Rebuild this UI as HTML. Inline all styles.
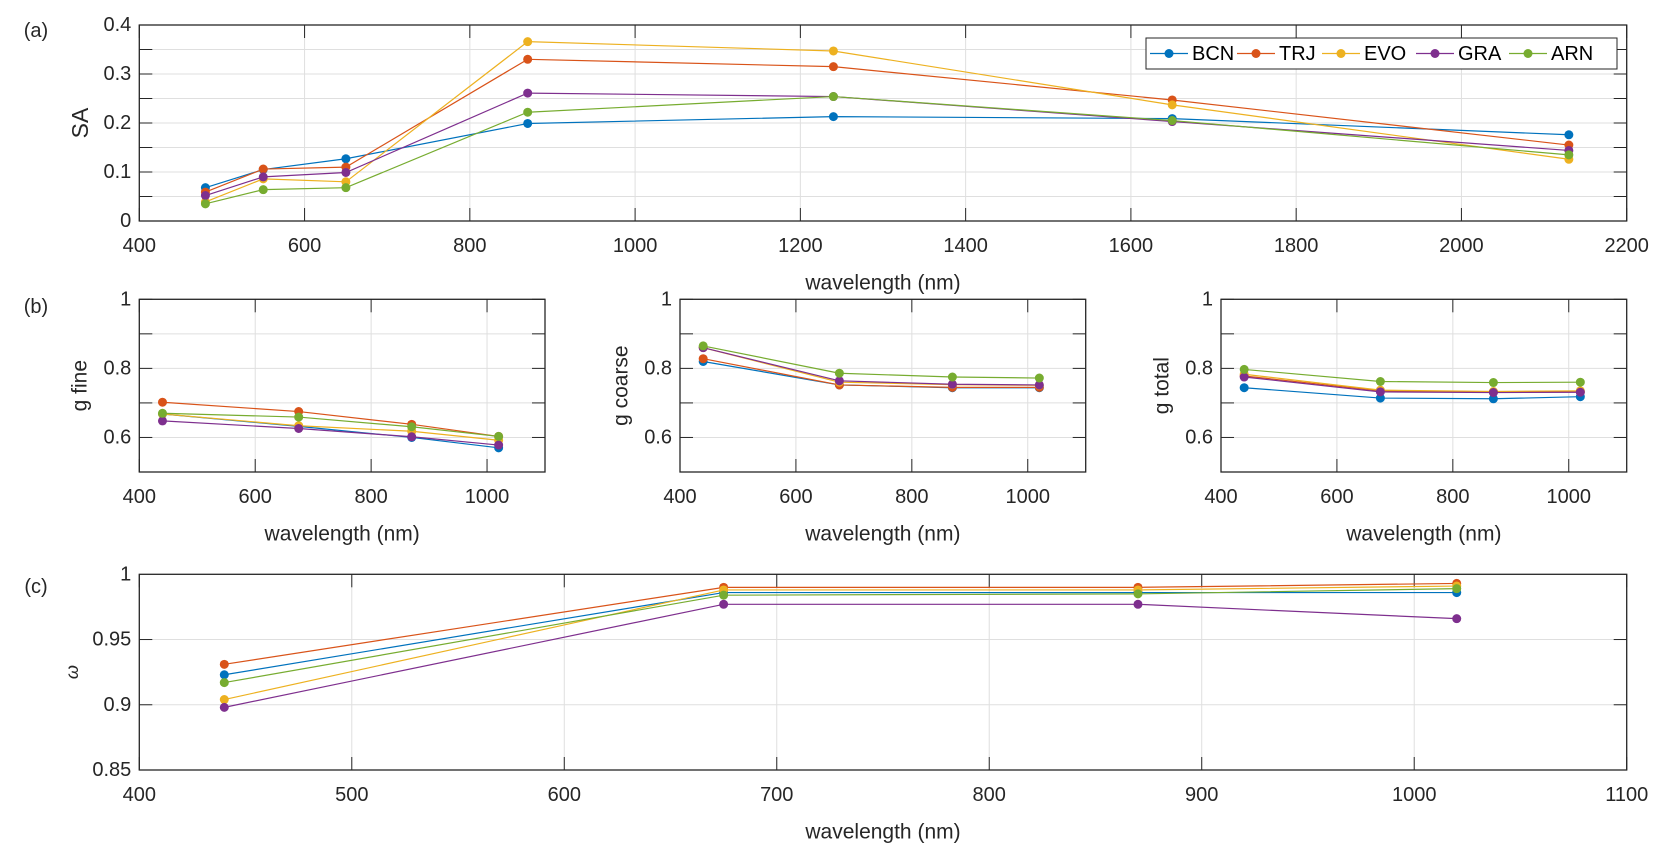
<!DOCTYPE html>
<html><head><meta charset="utf-8"><style>
body{margin:0;background:#fff;}
svg{display:block;font-family:"Liberation Sans",Arial,sans-serif;}
</style></head><body>
<svg id="fig" width="1669" height="860" viewBox="0 0 1669 860" xmlns="http://www.w3.org/2000/svg"></svg>
<script>
const seriesNames = ["BCN","TRJ","EVO","GRA","ARN"];
const colors = ["#0072BD","#D95319","#EDB120","#7E2F8E","#77AC30"];
// Panel (a) SA
const waveA = [480,550,650,870,1240,1650,2130];
const saBCN = [0.068,0.105,0.127,0.199,0.213,0.209,0.176];
const saTRJ = [0.059,0.106,0.110,0.330,0.315,0.247,0.155];
const saEVO = [0.039,0.086,0.080,0.366,0.347,0.237,0.126];
const saGRA = [0.052,0.090,0.099,0.261,0.254,0.203,0.144];
const saARN = [0.035,0.064,0.068,0.222,0.254,0.205,0.135];
// Panels (b),(c)
const waveB = [440,675,870,1020];
const gfBCN = [0.668,0.632,0.600,0.570];
const gfTRJ = [0.702,0.675,0.638,0.603];
const gfEVO = [0.668,0.634,0.618,0.592];
const gfGRA = [0.648,0.626,0.602,0.578];
const gfARN = [0.670,0.659,0.631,0.603];
const gcBCN = [0.820,0.752,0.744,0.744];
const gcTRJ = [0.828,0.752,0.745,0.745];
const gcEVO = [0.860,0.760,0.753,0.751];
const gcGRA = [0.860,0.764,0.754,0.752];
const gcARN = [0.865,0.786,0.775,0.772];
const gtBCN = [0.744,0.714,0.712,0.718];
const gtTRJ = [0.778,0.735,0.731,0.732];
const gtEVO = [0.783,0.737,0.733,0.735];
const gtGRA = [0.775,0.732,0.730,0.731];
const gtARN = [0.797,0.762,0.759,0.760];
const omBCN = [0.923,0.986,0.986,0.986];
const omTRJ = [0.931,0.990,0.990,0.993];
const omEVO = [0.904,0.988,0.988,0.991];
const omGRA = [0.898,0.977,0.977,0.966];
const omARN = [0.917,0.984,0.985,0.989];

const NS="http://www.w3.org/2000/svg";
const svg=document.getElementById('fig');
function mk(tag,attrs,parent){const e=document.createElementNS(NS,tag);for(const k in attrs)e.setAttribute(k,attrs[k]);(parent||svg).appendChild(e);return e;}
function txt(s,x,y,size,anchor,parent,extra){const t=mk('text',Object.assign({x:x,y:y,'font-size':size,'text-anchor':anchor||'middle','dominant-baseline':'central',fill:'#262626'},extra||{}),parent);t.textContent=s;return t;}

function panel(o){
  const g=mk('g',{});
  
  
  const X=v=>o.L+(v-o.x0)/(o.x1-o.x0)*(o.R-o.L);
  const Y=v=>o.B-(v-o.y0)/(o.y1-o.y0)*(o.B-o.T);
  // grid
  o.xgrid.forEach(v=>{mk('line',{x1:X(v),x2:X(v),y1:o.T,y2:o.B,stroke:'#dfdfdf','stroke-width':1},g);});
  o.ygrid.forEach(v=>{mk('line',{x1:o.L,x2:o.R,y1:Y(v),y2:Y(v),stroke:'#dfdfdf','stroke-width':1},g);});
  // ticks
  o.xgrid.forEach(v=>{mk('line',{x1:X(v),x2:X(v),y1:o.B,y2:o.B-13,stroke:'#262626'},g);mk('line',{x1:X(v),x2:X(v),y1:o.T,y2:o.T+13,stroke:'#262626'},g);});
  o.ygrid.forEach(v=>{mk('line',{x1:o.L,x2:o.L+13,y1:Y(v),y2:Y(v),stroke:'#262626'},g);mk('line',{x1:o.R,x2:o.R-13,y1:Y(v),y2:Y(v),stroke:'#262626'},g);});
  mk('rect',{x:o.L,y:o.T,width:o.R-o.L,height:o.B-o.T,fill:'none',stroke:'#262626','stroke-width':1.3},g);
  o.xticks.forEach(v=>{const t=txt(String(v),X(v),o.B+25,20,'middle',g);});
  o.yticks.forEach(v=>{const t=txt(o.yfmt(v),o.L-8,Y(v),20,'end',g);});
  const xl=txt('wavelength (nm)',(o.L+o.R)/2,o.B+62,21,'middle',g);
  
  const yl=txt(o.ylabel,o.ylx,(o.T+o.B)/2,o.ylsize||21,'middle',g,{transform:`rotate(-90 ${o.ylx} ${(o.T+o.B)/2})`});
  if(o.italic)yl.setAttribute('font-style','italic');
  
  o.series.forEach((arr,i)=>{
    const pts=o.xs.map((x,j)=>X(x)+','+Y(arr[j])).join(' ');
    const pl=mk('polyline',{points:pts,fill:'none',stroke:colors[i],'stroke-width':1.2},g);
    
    
    o.xs.forEach((x,j)=>{const c=mk('circle',{cx:X(x),cy:Y(arr[j]),r:4.5,fill:colors[i]},g);
      
      });
  });
  return g;
}
const f1=v=>v.toFixed(1).replace(/^0\.0$/,'0').replace(/\.0$/,'');
const range=(a,b,s)=>{const r=[];for(let v=a;v<=b+1e-9;v+=s)r.push(+v.toFixed(4));return r;};

panel({name:'panel-a-sa',L:139.3,R:1626.7,T:25,B:221,x0:400,x1:2200,y0:0,y1:0.4,
  xgrid:range(400,2200,200),xticks:range(400,2200,200),ygrid:range(0,0.4,0.05),yticks:range(0,0.4,0.1),
  yfmt:v=>v===0?'0':v.toFixed(1),ylabel:'SA',ylx:80,ylsize:23,xs:waveA,series:[saBCN,saTRJ,saEVO,saGRA,saARN]});
const bT=299.3,bB=472;
const bcfg=[{n:'panel-b-g-fine',L:139.3,R:545,lab:'g fine',s:[gfBCN,gfTRJ,gfEVO,gfGRA,gfARN],ylx:80},
 {n:'panel-b-g-coarse',L:680,R:1085.7,lab:'g coarse',s:[gcBCN,gcTRJ,gcEVO,gcGRA,gcARN],ylx:621},
 {n:'panel-b-g-total',L:1221,R:1626.7,lab:'g total',s:[gtBCN,gtTRJ,gtEVO,gtGRA,gtARN],ylx:1162}];
bcfg.forEach(c=>panel({name:c.n,L:c.L,R:c.R,T:bT,B:bB,x0:400,x1:1100,y0:0.5,y1:1,
  xgrid:range(400,1000,200),xticks:range(400,1000,200),ygrid:range(0.6,1,0.1),yticks:[0.6,0.8,1],
  yfmt:v=>v===1?'1':v.toFixed(1),ylabel:c.lab,ylx:c.ylx,xs:waveB,series:c.s}));
panel({name:'panel-c-omega',L:139.3,R:1626.7,T:574.3,B:770,x0:400,x1:1100,y0:0.85,y1:1,
  xgrid:range(400,1100,100),xticks:range(400,1100,100),ygrid:[0.9,0.95],yticks:[0.85,0.9,0.95,1],
  yfmt:v=>v===1?'1':String(v),ylabel:'ω',ylx:72,ylsize:18,italic:true,xs:waveB,series:[omBCN,omTRJ,omEVO,omGRA,omARN]});

// panel letters
[['(a)',36,31,'label-a'],['(b)',36,307,'label-b'],['(c)',36,587,'label-c']].forEach(a=>{
  const t=txt(a[0],a[1],a[2],20,'middle');});

// legend
const lg=mk('g',{});


mk('rect',{x:1146,y:38,width:471,height:31,fill:'#fff',stroke:'#262626','stroke-width':1},lg);
const lx=[1150,1237,1322,1416,1509];
seriesNames.forEach((n,i)=>{
  const e=mk('g',{},lg);
  
  
  mk('line',{x1:lx[i],x2:lx[i]+38,y1:53.5,y2:53.5,stroke:colors[i],'stroke-width':1.2},e);
  mk('circle',{cx:lx[i]+19,cy:53.5,r:4.5,fill:colors[i]},e);
  txt(n,lx[i]+42,54,20,'start',e,{fill:'#000'});
});
</script>
</body></html>
